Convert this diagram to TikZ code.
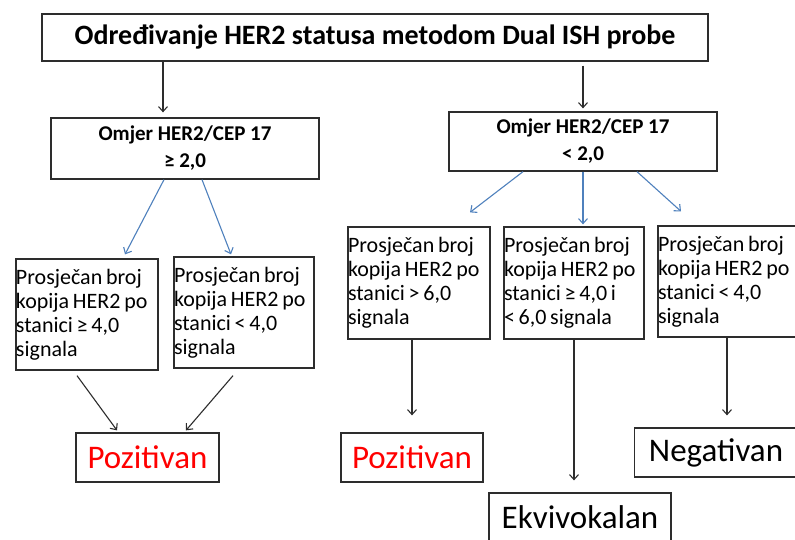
\documentclass[tikz,border=0pt]{standalone}
\usepackage{fontspec}
\setmainfont{Carlito}
\usepackage{tikz}
\usetikzlibrary{arrows.meta}

\definecolor{linegray}{RGB}{45,45,45}
\definecolor{arrblue}{RGB}{79,129,189}
\definecolor{posred}{RGB}{255,0,0}
\newcommand{\boxspacing}{\spaceskip=0.17em\relax}

\begin{document}
\begin{tikzpicture}[x=1pt,y=-1pt,
  box/.style={draw=linegray, line width=1.3pt, inner sep=0pt, fill=white},
  textbox/.style={box, align=left, font=\fontsize{22}{24}\selectfont, execute at begin node=\boxspacing},
  ratiobox/.style={box, align=center, font=\fontsize{21}{27}\selectfont\bfseries},
  resbox/.style={box, font=\fontsize{33}{36}\selectfont},
  blackarr/.style={draw=linegray, line width=1.1pt, -{Straight Barb[length=5pt,width=9pt]}},
  bluearr/.style={draw=arrblue, line width=1.1pt, -{Straight Barb[length=5pt,width=9pt]}}]
\useasboundingbox [fill=white] (0,0) rectangle (795,539);

% title
\node[box, minimum width=666pt, minimum height=47pt, font=\fontsize{28}{30}\selectfont\bfseries]
  (title) at (375,37.5) {Određivanje HER2 statusa metodom Dual ISH probe};

% ratio boxes
\node[ratiobox, minimum width=268pt, minimum height=61pt] (omjerL) at (185,148.5)
  {Omjer HER2/CEP 17\\≥ 2,0};
\node[ratiobox, minimum width=268pt, minimum height=59pt] (omjerR) at (583,141.5)
  {Omjer HER2/CEP 17\\< 2,0};

% copy number boxes
\node[textbox, text width=142pt, minimum height=111pt] (L1) at (87,314.5)
  {Prosječan broj\\kopija HER2 po\\stanici ≥ 4,0\\signala};
\node[textbox, text width=140pt, minimum height=111pt] (L2) at (244,312.5)
  {Prosječan broj\\kopija HER2 po\\stanici < 4,0\\signala};
\node[textbox, text width=142pt, minimum height=112pt] (R1) at (419,283)
  {Prosječan broj\\kopija HER2 po\\stanici > 6,0\\signala};
\node[textbox, text width=140pt, minimum height=112pt] (R2) at (574,283)
  {Prosječan broj\\kopija HER2 po\\stanici ≥ 4,0 i\\< 6,0 signala};
\node[textbox, text width=142pt, minimum height=111pt] (R3) at (729,281.5)
  {Prosječan broj\\kopija HER2 po\\stanici < 4,0\\signala};

% results
\node[resbox, text=posred, minimum width=143pt, minimum height=49pt] (posL) at (147.5,457.5) {Pozitivan};
\node[resbox, text=posred, minimum width=142pt, minimum height=49pt] (posR) at (412,457.5) {Pozitivan};
\node[resbox, minimum width=163pt, minimum height=49pt] (neg) at (716,452.5) {Negativan};
\node[resbox, minimum width=182pt, minimum height=49pt] (ekv) at (580,517.5) {Ekvivokalan};

% connectors
\draw[blackarr, shorten >=5pt] ([xshift=-22pt]omjerL.north |- title.south) -- ([xshift=-22pt]omjerL.north);
\draw[blackarr, shorten <=4pt, shorten >=3pt] (title.south -| omjerR.north) -- (omjerR.north);

\draw[bluearr] ([xshift=-21pt]omjerL.south) -- ([xshift=38pt,yshift=4pt]L1.north);
\draw[bluearr] ([xshift=17pt]omjerL.south) -- ([xshift=-13pt,yshift=2pt]L2.north);
\draw[bluearr] ([xshift=-60pt]omjerR.south) -- ([xshift=51pt,yshift=14pt]R1.north);
\draw[bluearr] (omjerR.south) -- ([xshift=9pt,yshift=2pt]R2.north);
\draw[bluearr] ([xshift=54pt]omjerR.south) -- ([xshift=-48pt,yshift=14pt]R3.north);

\draw[blackarr] ([xshift=-10pt,yshift=-5pt]L1.south) -- ([xshift=-30.5pt,yshift=2pt]posL.north);
\draw[blackarr] ([xshift=-11pt,yshift=-7pt]L2.south) -- ([xshift=38.5pt,yshift=2pt]posL.north);
\draw[blackarr, shorten >=17pt] (posR.north |- R1.south) -- (posR.north);
\draw[blackarr, shorten >=12pt] ([xshift=-6pt]ekv.north |- R2.south) -- ([xshift=-6pt]ekv.north);
\draw[blackarr, shorten >=12pt] ([xshift=-2pt]R3.south) -- ([xshift=-2pt]R3.south |- neg.north);
\end{tikzpicture}
\end{document}
